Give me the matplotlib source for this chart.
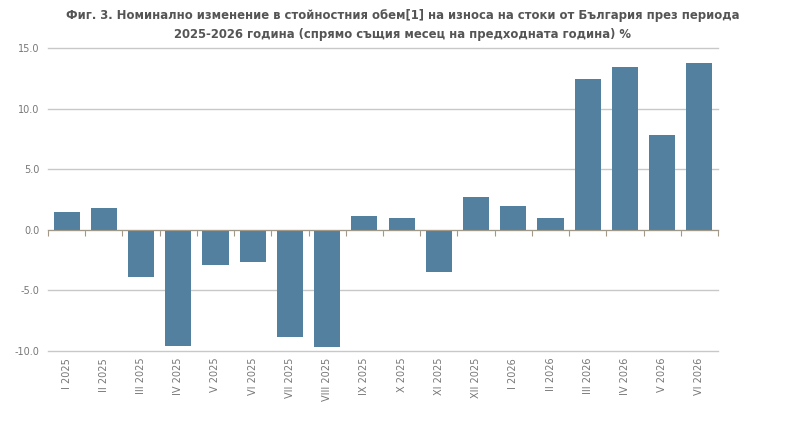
import matplotlib
matplotlib.use('Agg')
from matplotlib import pyplot as plt
import numpy as np

# Monthly data
months = ['I 2025', 'II 2025', 'III 2025', 'IV 2025', 'V 2025', 'VI 2025',
          'VII 2025', 'VIII 2025', 'IX 2025', 'X 2025', 'XI 2025', 'XII 2025',
          'I 2026', 'II 2026', 'III 2026', 'IV 2026', 'V 2026', 'VI 2026']
change = [1.5, 1.8, -3.9, -9.6, -2.9, -2.65, -8.85, -9.7, 1.1, 1.0, -3.5, 2.7,
          1.95, 1.0, 12.45, 13.45, 7.8, 13.75]
yticks = [-10.0, -5.0, 0.0, 5.0, 10.0, 15.0]

title = ('Фиг. 3. Номинално изменение в стойностния обем[1] на износа на стоки от България през периода\n'
         '2025-2026 година (спрямо същия месец на предходната година) %')

fig = plt.figure(figsize=(8, 4.29), dpi=100)
ax = fig.add_axes([0.06, 0.182, 0.8375, 0.706])

x = np.arange(len(months))
ax.bar(x, change, width=0.7, color='#54809f', zorder=3)

ax.set_xlim(-0.5, len(months) - 0.5)
ax.set_ylim(-10, 15)
ax.set_yticks(yticks)
ax.set_yticklabels(['%.1f' % v for v in yticks])
ax.grid(axis='y', color='#c8c8c8', linewidth=1, zorder=0)
for gl in ax.get_ygridlines():
    gl.set_clip_on(False)
ax.tick_params(axis='y', length=0, labelsize=7, colors='#777777', pad=6)

for s in ['top', 'right', 'left']:
    ax.spines[s].set_visible(False)

# zero line with ticks on category boundaries
ax.spines['bottom'].set_position(('data', 0))
ax.spines['bottom'].set_color('#a09888')
ax.spines['bottom'].set_zorder(4)
ax.set_xticks(np.arange(len(months) + 1) - 0.5)
ax.tick_params(axis='x', length=4, color='#a09888', labelbottom=False)

# category labels at the bottom
sec = ax.secondary_xaxis(0)
sec.set_xticks(x)
sec.set_xticklabels(months, rotation=90)
sec.tick_params(length=0, labelsize=7, colors='#777777', pad=5)
sec.spines['bottom'].set_visible(False)

fig.suptitle(title, fontsize=8.4, fontweight='bold', color='#555555',
             x=0.503, y=0.978, linespacing=1.55)

plt.savefig('out.png', dpi=100)
plt.close()
